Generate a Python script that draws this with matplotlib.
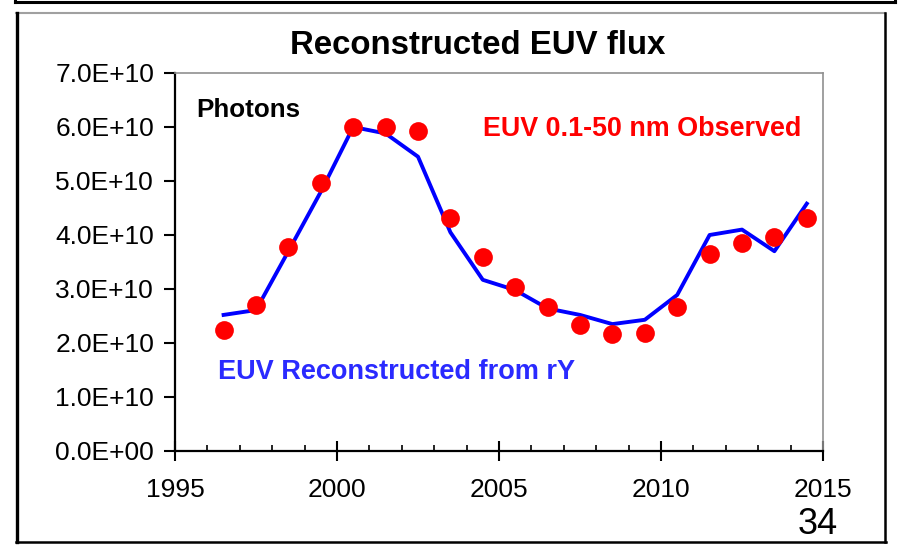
import matplotlib
matplotlib.use("Agg")
import matplotlib.pyplot as plt
from matplotlib.lines import Line2D
from matplotlib.ticker import MultipleLocator, FuncFormatter

plt.rcParams['font.family'] = ['Liberation Sans', 'DejaVu Sans']

# Yearly values (mid-year), photon flux
years = [1996.5, 1997.5, 1998.5, 1999.5, 2000.5, 2001.5, 2002.5, 2003.5, 2004.5,
         2005.5, 2006.5, 2007.5, 2008.5, 2009.5, 2010.5, 2011.5, 2012.5, 2013.5, 2014.5]
euv_observed = [2.24e10, 2.70e10, 3.78e10, 4.96e10, 6.00e10, 6.00e10, 5.93e10, 4.31e10, 3.60e10,
                3.04e10, 2.67e10, 2.34e10, 2.17e10, 2.18e10, 2.67e10, 3.65e10, 3.85e10, 3.97e10, 4.31e10]
euv_reconstructed = [2.52e10, 2.61e10, 3.70e10, 4.80e10, 6.00e10, 5.88e10, 5.45e10, 4.05e10, 3.17e10,
                     2.98e10, 2.64e10, 2.52e10, 2.35e10, 2.43e10, 2.89e10, 4.00e10, 4.10e10, 3.70e10, 4.58e10]

W, H = 899, 549
fig = plt.figure(figsize=(W / 100, H / 100), dpi=100)


def fx(px):
    return px / W


def fy(py):
    return 1 - py / H


ax = fig.add_axes([fx(175), fy(451), (823 - 175) / W, (451 - 73) / H])

ax.plot(years, euv_reconstructed, color='#0000ff', lw=2.8, zorder=2)
ax.plot(years, euv_observed, 'o', color='#ff0000', ms=13.5, mec='none', zorder=3)

ax.set_xlim(1995, 2015)
ax.set_ylim(0, 7e10)
ax.xaxis.set_major_locator(MultipleLocator(5))
ax.xaxis.set_minor_locator(MultipleLocator(1))
ax.yaxis.set_major_locator(MultipleLocator(1e10))
ax.yaxis.set_major_formatter(FuncFormatter(lambda v, p: f"{v:.1E}"))

ax.tick_params(axis='x', which='major', direction='inout', length=15, width=1.5,
               labelsize=19, pad=12)
ax.tick_params(axis='x', which='minor', direction='in', length=4, width=1.2)
ax.tick_params(axis='y', which='major', direction='out', length=8, width=1.5,
               labelsize=19, pad=7)

for side in ('top', 'right'):
    ax.spines[side].set_color('#909090')
    ax.spines[side].set_linewidth(1.2)
for side in ('left', 'bottom'):
    ax.spines[side].set_color('black')
    ax.spines[side].set_linewidth(1.6)

# Annotations
fig.text(fx(478), fy(45), 'Reconstructed EUV flux', ha='center', va='center',
         fontsize=23.8, fontweight='bold', color='black')
fig.text(fx(196), fy(110), 'Photons', ha='left', va='center',
         fontsize=18.7, fontweight='bold', color='black')
fig.text(fx(483), fy(129), 'EUV 0.1-50 nm Observed', ha='left', va='center',
         fontsize=19.4, fontweight='bold', color='#ff0000')
fig.text(fx(218), fy(372), 'EUV Reconstructed from rY', ha='left', va='center',
         fontsize=19.5, fontweight='bold', color='#2a2aff')
fig.text(fx(818), fy(525), '34', ha='center', va='center',
         fontsize=26, color='black')

# Slide frame lines
def seg(x0, y0, x1, y1, color='black', lw=2.0):
    fig.add_artist(Line2D([fx(x0), fx(x1)], [fy(y0), fy(y1)], color=color, lw=lw,
                          transform=fig.transFigure, solid_capstyle='projecting'))


seg(15, 2, 895, 2, lw=2.2)
seg(15, 0, 15, 2, lw=2.2)
seg(895, 0, 895, 2, lw=2.2)
seg(16, 12.5, 885, 12.5, color='#a0a0a0', lw=1.5)
seg(16.5, 12.5, 16.5, 541.5, lw=2.4)
seg(885, 12.5, 885, 541.5, lw=1.8)
seg(16, 541.5, 886, 541.5, lw=1.8)

fig.savefig('out.png', dpi=100)
